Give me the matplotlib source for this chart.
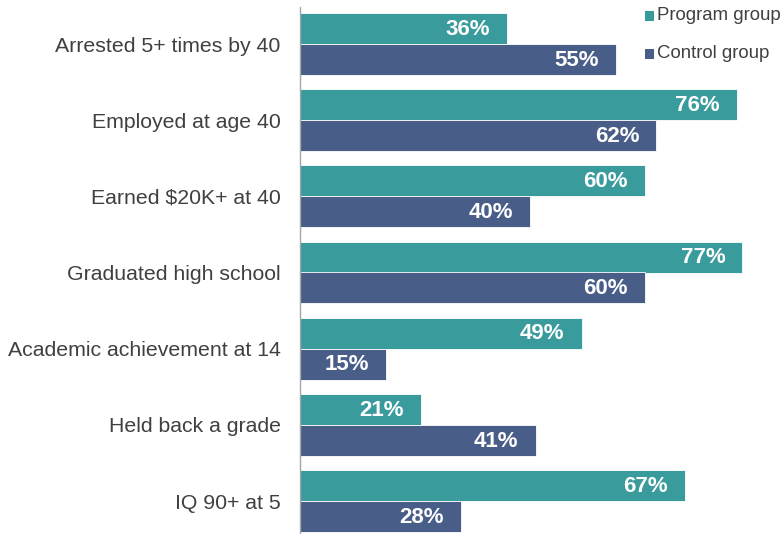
import matplotlib
matplotlib.use("Agg")
import matplotlib.pyplot as plt
from matplotlib.patches import Rectangle

categories = ["Arrested 5+ times by 40", "Employed at age 40", "Earned $20K+ at 40",
              "Graduated high school", "Academic achievement at 14", "Held back a grade",
              "IQ 90+ at 5"]
program = [36, 76, 60, 77, 49, 21, 67]
control = [55, 62, 40, 60, 15, 41, 28]
series_names = ["Program group", "Control group"]

teal = "#3A9B9D"
navy = "#485E88"
txt = "#404040"

plt.rcParams['font.family'] = ['Liberation Sans', 'DejaVu Sans']

fig = plt.figure(figsize=(7.84, 5.34), dpi=100)
ax = fig.add_axes([300/784, 0, 484/784, 527/534])

h = 0.407
off = 0.203
y = list(range(len(categories)))
ax.barh([v - off for v in y], program, height=h, color=teal, edgecolor="white", linewidth=0.6)
ax.barh([v + off for v in y], control, height=h, color=navy, edgecolor="white", linewidth=0.6)

pad = 17 / 5.745
for i in y:
    ax.text(program[i] - pad, i - off + 0.01, f"{program[i]}%", ha="right", va="center",
            color="white", fontsize=16, fontweight="bold")
    ax.text(control[i] - pad, i + off + 0.01, f"{control[i]}%", ha="right", va="center",
            color="white", fontsize=16, fontweight="bold")

ax.set_xlim(0, 484 / 5.745)
ax.set_ylim(6.433, -0.486)
ax.set_yticks(y)
ax.set_yticklabels(categories, fontsize=15.3, color=txt)
ax.tick_params(axis="y", length=0, pad=14)
ax.set_xticks([])
for s in ["top", "right", "bottom"]:
    ax.spines[s].set_visible(False)
ax.spines["left"].set_color("#A6A6A6")
ax.spines["left"].set_linewidth(1)

# legend
for (name, col, ty) in [(series_names[0], teal, 16), (series_names[1], navy, 54)]:
    fig.add_artist(Rectangle((645/784, 1 - (ty + 4.5)/534), 9/784, 9/534,
                             transform=fig.transFigure, color=col, linewidth=0))
    fig.text(657/784, 1 - ty/534, name, ha="left", va="center", fontsize=13.4, color=txt)

fig.savefig("out.png", dpi=100)
